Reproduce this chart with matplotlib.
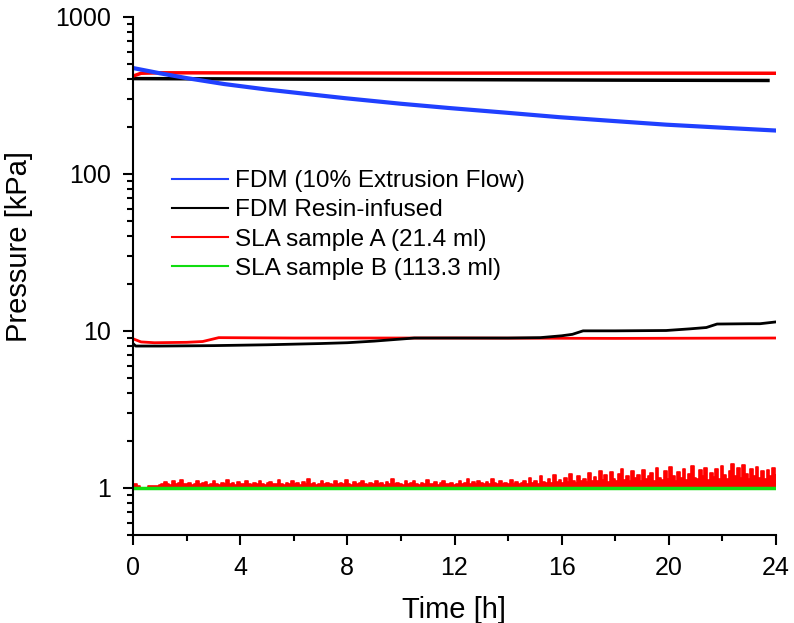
import numpy as np
import matplotlib
matplotlib.use("Agg")
import matplotlib.pyplot as plt
import matplotlib.ticker as ticker

plt.rcParams['font.family'] = ['Liberation Sans', 'DejaVu Sans']

# FDM (10% extrusion flow)
fdm_t = [0, 1, 2, 3.4, 5, 6.5, 7.9, 10, 11.8, 14, 15.9, 18, 19.9, 22, 24]
fdm_p = [473, 438, 408, 374, 345, 323, 304, 280, 263, 245, 230, 217, 206, 197, 189]

# FDM resin-infused, high and low pressure runs
resin_hi_t = [0, 6, 12, 18, 23.7]
resin_hi_p = [405, 402, 399, 396, 394]
resin_lo_t = [0, 0.1, 1, 3, 5, 7, 8, 9, 10.5, 12, 14, 15.2, 16, 16.4, 16.8,
              18, 19.9, 20.8, 21.4, 21.8, 23, 23.4, 24]
resin_lo_p = [8.3, 8.0, 8.0, 8.05, 8.15, 8.3, 8.4, 8.6, 9.0, 9.0, 9.0, 9.05,
              9.3, 9.5, 10.0, 10.0, 10.05, 10.3, 10.5, 11.05, 11.1, 11.1, 11.4]

# SLA sample A, three pressure levels
sla_a_hi_t = [0, 0.3, 1, 6, 12, 18, 24]
sla_a_hi_p = [420, 438, 441, 440, 439, 439, 438]
sla_a_mid_t = [0, 0.3, 0.8, 2.0, 2.6, 3.2, 6, 12, 18, 24]
sla_a_mid_p = [8.9, 8.5, 8.4, 8.45, 8.55, 9.05, 9.0, 9.0, 8.95, 9.0]
# low level, read every ~0.1 h
sla_a_lo_p = [
    1.04, 1.05, 1.03, 1.00, 1.00, 1.00, 1.02, 1.02, 1.03, 1.02, 1.04,
    1.05, 1.09, 1.06, 1.04, 1.10, 1.05, 1.07, 1.12, 1.06, 1.05,
    1.08, 1.04, 1.06, 1.11, 1.05, 1.07, 1.09, 1.04, 1.06, 1.10,
    1.05, 1.04, 1.08, 1.06, 1.12, 1.05, 1.07, 1.04, 1.09, 1.06,
    1.05, 1.10, 1.06, 1.04, 1.08, 1.05, 1.11, 1.06, 1.04, 1.07,
    1.09, 1.05, 1.06, 1.12, 1.05, 1.04, 1.08, 1.06, 1.10, 1.05,
    1.07, 1.04, 1.09, 1.06, 1.13, 1.05, 1.08, 1.04, 1.06, 1.10,
    1.05, 1.08, 1.06, 1.04, 1.11, 1.06, 1.07, 1.05, 1.12, 1.06,
    1.04, 1.09, 1.05, 1.07, 1.10, 1.05, 1.04, 1.08, 1.06, 1.11,
    1.05, 1.07, 1.04, 1.09, 1.06, 1.13, 1.05, 1.08, 1.06, 1.04,
    1.10, 1.05, 1.07, 1.11, 1.06, 1.04, 1.08, 1.05, 1.12, 1.06,
    1.05, 1.09, 1.04, 1.07, 1.10, 1.05, 1.06, 1.08, 1.04,
    1.06, 1.10, 1.05, 1.08, 1.13, 1.06, 1.09, 1.05, 1.11, 1.07,
    1.05, 1.09, 1.06, 1.14, 1.07, 1.05, 1.10, 1.06, 1.08, 1.05,
    1.12, 1.06, 1.09, 1.05, 1.07, 1.11, 1.06, 1.15, 1.08, 1.10,
    1.06, 1.18, 1.09, 1.07, 1.13, 1.08, 1.21, 1.09, 1.12, 1.07,
    1.16, 1.09, 1.22, 1.10, 1.08, 1.19, 1.10, 1.14, 1.09, 1.24,
    1.10, 1.17, 1.11,
    1.28, 1.12, 1.20, 1.09, 1.26, 1.14, 1.10, 1.22, 1.31, 1.12,
    1.18, 1.10, 1.27, 1.15, 1.21, 1.11, 1.30, 1.13, 1.19, 1.25,
    1.10, 1.33, 1.16, 1.12, 1.28, 1.14, 1.35, 1.18, 1.11, 1.26,
    1.15, 1.32, 1.12, 1.22, 1.37, 1.16, 1.13, 1.29, 1.18, 1.34,
    1.12, 1.25, 1.17, 1.31, 1.14, 1.38, 1.20, 1.13, 1.28, 1.42,
    1.19, 1.33, 1.15, 1.40, 1.22, 1.14, 1.31, 1.18, 1.36, 1.16,
    1.27, 1.13, 1.30, 1.19, 1.34, 1.21,
]
sla_a_lo_t = np.linspace(0, 24, len(sla_a_lo_p))

# SLA sample B
sla_b_t = [0, 24]
sla_b_p = [1.0, 1.0]

blue = '#2040ff'
red = '#ff0000'
green = '#10dd10'

fig = plt.figure(figsize=(7.94, 6.23), dpi=100)
ax = fig.add_axes([133/794, 1-535/623, 643/794, 518/623])

# dense noisy trace: fill under the steps so it reads as a band
ax.fill_between(sla_a_lo_t, 1.0, sla_a_lo_p, step='mid', color=red, lw=0)
ax.plot(sla_a_lo_t, sla_a_lo_p, color=red, lw=1.2, drawstyle='steps-mid')
ax.plot(sla_b_t, sla_b_p, color=green, lw=2.5)
ax.plot(sla_a_mid_t, sla_a_mid_p, color=red, lw=2)
ax.plot(resin_lo_t, resin_lo_p, color='black', lw=2)
ax.plot(resin_hi_t, resin_hi_p, color='black', lw=2.5)
ax.plot(sla_a_hi_t, sla_a_hi_p, color=red, lw=2.5)
ax.plot(fdm_t, fdm_p, color=blue, lw=3)

# legend handles
h1, = ax.plot([], [], color=blue, lw=1.5, label='FDM (10% Extrusion Flow)')
h2, = ax.plot([], [], color='black', lw=1.5, label='FDM Resin-infused')
h3, = ax.plot([], [], color=red, lw=1.5, label='SLA sample A (21.4 ml)')
h4, = ax.plot([], [], color=green, lw=1.5, label='SLA sample B (113.3 ml)')
ax.legend(handles=[h1, h2, h3, h4], frameon=False, fontsize=17.5,
          loc='upper left', bbox_to_anchor=(172/794, 1-170/623),
          bbox_transform=fig.transFigure, borderpad=0, borderaxespad=0,
          handlelength=2.3, handletextpad=0.3, labelspacing=0.3)

ax.set_yscale('log')
ax.set_ylim(0.5, 1000)
ax.set_xlim(0, 24)
ax.xaxis.set_major_locator(ticker.MultipleLocator(4))
ax.xaxis.set_minor_locator(ticker.MultipleLocator(2))
ax.yaxis.set_major_locator(ticker.FixedLocator([1, 10, 100, 1000]))
ax.yaxis.set_major_formatter(ticker.FixedFormatter(['1', '10', '100', '1000']))
ax.yaxis.set_minor_locator(ticker.LogLocator(base=10, subs=np.arange(2, 10), numticks=20))
ax.yaxis.set_minor_formatter(ticker.NullFormatter())

for s in ['top', 'right']:
    ax.spines[s].set_visible(False)
for s in ['left', 'bottom']:
    ax.spines[s].set_linewidth(1.5)

ax.tick_params(which='major', direction='out', length=7, width=1.5, labelsize=18)
ax.tick_params(which='minor', direction='out', length=4, width=1.5)
ax.tick_params(axis='x', which='major', pad=8)
ax.tick_params(axis='y', which='major', pad=9)

ax.set_xlabel('Time [h]', fontsize=21)
ax.set_ylabel('Pressure [kPa]', fontsize=21)
ax.xaxis.set_label_coords(0.5, -0.118)
ax.yaxis.set_label_coords(-0.155, 0.556)

fig.savefig('out.png', dpi=100)
